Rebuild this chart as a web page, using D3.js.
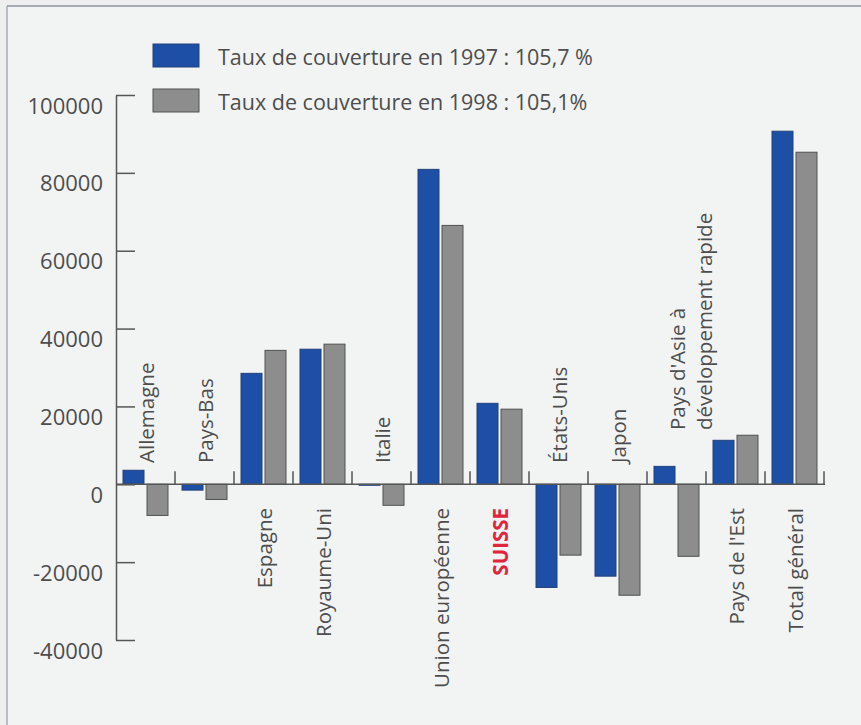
<!DOCTYPE html>
<html>
<head>
<meta charset="utf-8">
<script src="https://cdn.jsdelivr.net/npm/d3@7"></script>
<style>
  html, body { margin: 0; padding: 0; background: #eef0f0; }
  svg { display: block; font-family: "Open Sans", "Noto Sans", sans-serif; }
</style>
</head>
<body>
<svg id="chart" width="861" height="725"></svg>
<script>
// ---- data ----
const categories = [
  ["Allemagne"], ["Pays-Bas"], ["Espagne"], ["Royaume-Uni"], ["Italie"],
  ["Union européenne"], ["SUISSE"], ["États-Unis"], ["Japon"],
  ["Pays d'Asie à", "développement rapide"], ["Pays de l'Est"], ["Total général"]
];
const series = ["Taux de couverture en 1997 : 105,7 %", "Taux de couverture en 1998 : 105,1%"];
const values1997 = [3600, -1500, 28500, 34700, -200, 80900, 20800, -26500, -23600, 4600, 11300, 90700];
const values1998 = [-8000, -3900, 34400, 36000, -5400, 66500, 19300, -18200, -28500, -18500, 12600, 85300];
const yTicks = [100000, 80000, 60000, 40000, 20000, 0, -20000, -40000];

const colors = ["#1d4fa6", "#8d8d8d"];
const strokes = ["#23407a", "#505050"];
const textColor = "#4d4d4d";

const svg = d3.select("#chart");

// frame
svg.append("rect").attr("x", 0).attr("y", 0).attr("width", 861).attr("height", 725).attr("fill", "#eef0f0");
svg.append("rect").attr("x", 7).attr("y", 6).attr("width", 860).attr("height", 730).attr("fill", "#f2f4f4");
svg.append("line").attr("x1", 7).attr("x2", 861).attr("y1", 6).attr("y2", 6).attr("stroke", "#8e959c").attr("stroke-width", 1.5);
svg.append("line").attr("x1", 7).attr("x2", 7).attr("y1", 6).attr("y2", 725).attr("stroke", "#a6acb2").attr("stroke-width", 1.5);

// scales
const x0 = d3.scaleBand().domain(d3.range(categories.length)).range([116, 824]).padding(0);
const x1 = d3.scaleBand().domain([0, 1]).range([7, x0.bandwidth() - 7]).paddingInner(0.125);
const y = d3.scaleLinear().domain([-40000, 100000]).range([640, 95]);

// y axis
const yAxis = d3.axisLeft(y).tickValues(yTicks).tickSizeInner(-19).tickSizeOuter(0).tickPadding(13)
  .tickFormat(d => String(d));
const gy = svg.append("g").attr("transform", "translate(116,0)").call(yAxis);
gy.select(".domain").attr("stroke", "#555").attr("stroke-width", 1.5);
gy.selectAll(".tick line").attr("stroke", "#555").attr("stroke-width", 1.5);
gy.selectAll(".tick text").attr("fill", textColor).attr("font-size", 22).attr("y", 11)
  .attr("font-family", "'Open Sans', sans-serif");

// bars
const groups = svg.append("g").selectAll("g").data(categories).join("g")
  .attr("transform", (d, i) => `translate(${x0(i)},0)`);
[values1997, values1998].forEach((vals, s) => {
  groups.append("rect")
    .attr("x", x1(s))
    .attr("width", x1.bandwidth())
    .attr("y", (d, i) => y(Math.max(0, vals[i])))
    .attr("height", (d, i) => Math.max(1, Math.abs(y(vals[i]) - y(0))))
    .attr("fill", colors[s])
    .attr("stroke", strokes[s])
    .attr("stroke-width", 1);
});

// zero line and separator ticks
svg.append("line").attr("x1", 116).attr("x2", 825).attr("y1", y(0)).attr("y2", y(0))
  .attr("stroke", "#555").attr("stroke-width", 1.5);
svg.append("g").selectAll("line").data(d3.range(1, categories.length + 1)).join("line")
  .attr("x1", i => x0(0) + i * x0.bandwidth()).attr("x2", i => x0(0) + i * x0.bandwidth())
  .attr("y1", y(0)).attr("y2", y(0) - 13)
  .attr("stroke", "#555").attr("stroke-width", 1.5);

// category labels (rotated)
categories.forEach((lines, i) => {
  const hasNeg = values1997[i] < 0 || values1998[i] < 0;
  const cx = x0(i) + x0.bandwidth() / 2;
  lines.forEach((txt, j) => {
    const lx = cx + j * 27;
    const ly = hasNeg ? 463 - (lines.length - 1) * 33 : 508;
    const isSuisse = txt === "SUISSE";
    svg.append("text")
      .attr("transform", `translate(${lx},${ly}) rotate(-90)`)
      .attr("text-anchor", hasNeg ? "start" : "end")
      .attr("dominant-baseline", "central")
      .attr("font-size", 20.5)
      .attr("font-weight", isSuisse ? "bold" : "normal")
      .attr("fill", isSuisse ? "#e0243c" : textColor)
      .text(txt);
  });
});

// legend
const legend = svg.append("g");
series.forEach((name, s) => {
  const ly = 44 + s * 45;
  legend.append("rect").attr("x", 153).attr("y", ly).attr("width", 46).attr("height", 23)
    .attr("fill", colors[s]).attr("stroke", strokes[s]).attr("stroke-width", 1);
  legend.append("text").attr("x", 218).attr("y", ly + 21).attr("font-size", 21.5)
    .attr("fill", textColor).text(name);
});
</script>
</body>
</html>
